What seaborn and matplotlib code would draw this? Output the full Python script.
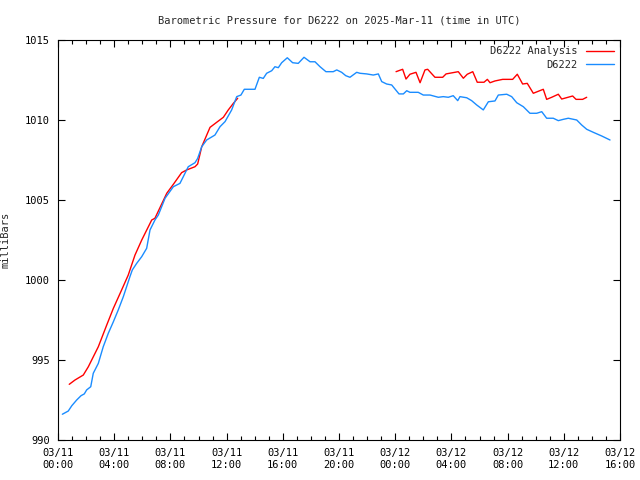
import numpy as np
import pandas as pd
import matplotlib
matplotlib.use("Agg")
import matplotlib.pyplot as plt
from matplotlib.ticker import MultipleLocator
from matplotlib.lines import Line2D
import seaborn as sns

# hours since 2025-03-11 00:00 UTC
obs_hours = [0.31, 0.73, 0.98, 1.33, 1.64, 1.87, 2.04, 2.33, 2.51, 2.87, 3.22, 3.58, 3.94, 4.29,
             4.65, 5.12, 5.29, 5.60, 5.96, 6.31, 6.55, 6.90, 7.14, 7.62, 8.21, 8.68, 8.92, 9.27,
             9.75, 9.94, 10.23, 10.58, 11.17, 11.53, 11.89, 12.36, 12.72, 13.02, 13.26, 14.02,
             14.33, 14.61, 14.85, 15.21, 15.44, 15.68, 15.92, 16.32, 16.70, 17.10, 17.51, 17.94,
             18.29, 18.65, 19.07, 19.59, 19.84, 20.19, 20.48, 20.78, 21.26, 21.49, 21.97, 22.44,
             22.80, 23.04, 23.39, 23.75, 24.27, 24.58, 24.82, 25.05, 25.64, 26.00, 26.48, 27.07,
             27.42, 27.78, 28.13, 28.45, 28.61, 29.09, 29.44, 29.80, 30.27, 30.63, 31.10, 31.34,
             31.94, 32.29, 32.65, 33.12, 33.59, 34.07, 34.43, 34.78, 35.25, 35.61, 35.96, 36.32,
             36.92, 37.27, 37.63, 38.10, 38.70, 39.29]
obs_mb = [991.61, 991.81, 992.14, 992.50, 992.77, 992.88, 993.13, 993.33, 994.17, 994.79, 995.83,
          996.67, 997.39, 998.13, 998.96, 1000.21, 1000.63, 1001.04, 1001.46, 1001.98, 1003.13,
          1003.75, 1004.06, 1005.11, 1005.83, 1006.04, 1006.46, 1007.08, 1007.33, 1007.60,
          1008.33, 1008.75, 1009.06, 1009.58, 1009.90, 1010.63, 1011.46, 1011.56, 1011.92,
          1011.92, 1012.67, 1012.60, 1012.92, 1013.08, 1013.33, 1013.27, 1013.58, 1013.89,
          1013.58, 1013.54, 1013.92, 1013.64, 1013.64, 1013.33, 1013.02, 1013.02, 1013.13,
          1012.98, 1012.77, 1012.67, 1012.98, 1012.92, 1012.88, 1012.81, 1012.88, 1012.40,
          1012.25, 1012.19, 1011.63, 1011.63, 1011.83, 1011.73, 1011.73, 1011.56, 1011.56,
          1011.42, 1011.46, 1011.42, 1011.52, 1011.21, 1011.46, 1011.39, 1011.21, 1010.94,
          1010.63, 1011.14, 1011.19, 1011.56, 1011.61, 1011.46, 1011.08, 1010.83, 1010.42,
          1010.42, 1010.52, 1010.11, 1010.11, 1009.96, 1010.04, 1010.11, 1010.00, 1009.69,
          1009.42, 1009.23, 1009.00, 1008.75]

# analysis, two segments with a gap
ana1_hours = [0.80, 1.21, 1.80, 2.16, 2.87, 3.47, 3.94, 4.53, 5.00, 5.48, 5.96, 6.67, 6.90, 7.74,
              8.21, 8.80, 9.16, 9.75, 9.94, 10.23, 10.82, 11.30, 11.77, 12.12, 12.48, 12.79]
ana1_mb = [993.48, 993.75, 994.06, 994.58, 995.83, 997.19, 998.23, 999.38, 1000.31, 1001.56,
           1002.50, 1003.75, 1003.86, 1005.42, 1005.98, 1006.71, 1006.88, 1007.08, 1007.25,
           1008.33, 1009.54, 1009.86, 1010.17, 1010.63, 1011.04, 1011.36]
ana2_hours = [24.06, 24.53, 24.77, 25.05, 25.48, 25.77, 26.12, 26.31, 26.83, 27.38, 27.62, 28.49,
              28.85, 29.13, 29.52, 29.84, 30.32, 30.56, 30.75, 31.10, 31.65, 32.36, 32.69, 33.07,
              33.40, 33.83, 34.54, 34.78, 35.14, 35.61, 35.85, 36.63, 36.87, 37.34, 37.63]
ana2_mb = [1013.02, 1013.17, 1012.56, 1012.86, 1012.98, 1012.33, 1013.13, 1013.17, 1012.67,
           1012.67, 1012.88, 1013.02, 1012.61, 1012.86, 1013.02, 1012.36, 1012.36, 1012.54,
           1012.33, 1012.44, 1012.54, 1012.54, 1012.86, 1012.25, 1012.29, 1011.67, 1011.92,
           1011.29, 1011.42, 1011.61, 1011.31, 1011.50, 1011.29, 1011.29, 1011.42]

tick_hours = [0, 4, 8, 12, 16, 20, 24, 28, 32, 36, 40]
tick_labels = ["03/11\n00:00", "03/11\n04:00", "03/11\n08:00", "03/11\n12:00", "03/11\n16:00",
               "03/11\n20:00", "03/12\n00:00", "03/12\n04:00", "03/12\n08:00", "03/12\n12:00",
               "03/12\n16:00"]

obs = pd.DataFrame({"hour": obs_hours, "mb": obs_mb})
ana = pd.concat([pd.DataFrame({"hour": ana1_hours, "mb": ana1_mb, "seg": 1}),
                 pd.DataFrame({"hour": ana2_hours, "mb": ana2_mb, "seg": 2})])

sns.set_style("ticks")
plt.rcParams["font.family"] = ["DejaVu Sans Mono"]
plt.rcParams["font.size"] = 7.5

fig = plt.figure(figsize=(6.4, 4.8), dpi=100)
ax = fig.add_axes([58 / 640, 40 / 480, 562 / 640, 400 / 480])

red = "#ff0000"
blue = "#1a8cff"
sns.lineplot(data=ana, x="hour", y="mb", units="seg", estimator=None, color=red,
             lw=1, ax=ax)
sns.lineplot(data=obs, x="hour", y="mb", color=blue, lw=1, ax=ax)

ax.set_xlim(0, 40)
ax.set_ylim(990, 1015)
ax.set_xticks(tick_hours)
ax.set_xticklabels(tick_labels)
ax.xaxis.set_minor_locator(MultipleLocator(1))
ax.yaxis.set_major_locator(MultipleLocator(5))
ax.tick_params(which="both", direction="in", top=True, right=True, width=0.8, colors="black",
               labelsize=7.5, pad=6)
ax.tick_params(which="major", length=5)
ax.tick_params(which="minor", length=3)
for s in ax.spines.values():
    s.set_visible(True)
    s.set_linewidth(0.8)
    s.set_color("black")

ax.set_xlabel("")
ax.set_ylabel("milliBars", fontsize=7.5)
ax.yaxis.set_label_coords(-0.085, 0.5)
ax.set_title("Barometric Pressure for D6222 on 2025-Mar-11 (time in UTC)", fontsize=7.5, pad=12)

handles = [Line2D([], [], color=red, lw=1), Line2D([], [], color=blue, lw=1)]
ax.legend(handles, ["D6222 Analysis", "D6222"], loc="upper right", frameon=False,
          markerfirst=False, handlelength=2.7, handletextpad=0.8, labelspacing=0.35,
          borderaxespad=0.4, borderpad=0.2, fontsize=7.5)

fig.savefig("out.png", dpi=100)
